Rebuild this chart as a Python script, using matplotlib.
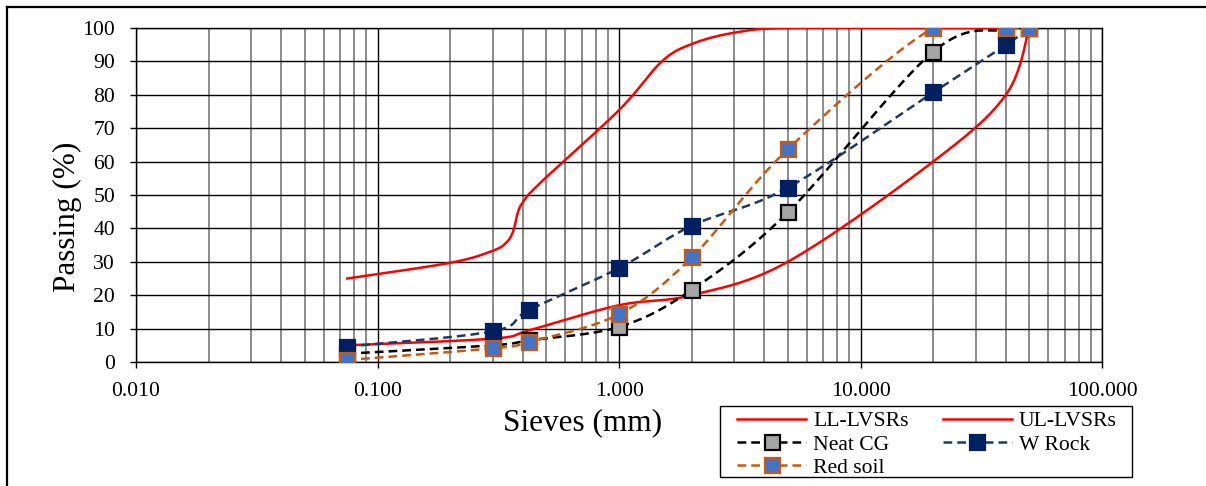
import matplotlib.pyplot as plt
import numpy as np
from matplotlib.lines import Line2D
from matplotlib.patches import Rectangle
from matplotlib.ticker import FixedLocator, FormatStrFormatter, NullFormatter

plt.rcParams['font.family'] = ['Liberation Serif', 'DejaVu Serif']

# sieve sizes (mm) and % passing for the three materials
sieves = [0.075, 0.3, 0.425, 1.0, 2.0, 5.0, 20.0, 40.0, 50.0]
neat_cg = [2.5, 5.0, 6.5, 10.5, 21.6, 44.8, 92.9, 99.5, 100]
w_rock = [4.6, 9.2, 15.6, 28.1, 40.8, 52.2, 80.7, 94.9, 100]
red_soil = [0.6, 4.1, 6.0, 14.3, 31.3, 63.7, 100, 100, 100]

# envelope curves
ll_x = [0.075, 0.3, 0.425, 1.0, 2.0, 5.0, 20.0, 40.0, 50.0]
ll_y = [5.0, 7.0, 9.5, 17.0, 20.0, 30.0, 60.0, 80.0, 100]
ul_x = [0.075, 0.2, 0.3, 0.344, 0.366, 0.377, 0.397, 0.47, 1.0, 1.5, 2.0, 3.0, 5.0, 20.0, 50.0]
ul_y = [25.0, 29.7, 33.3, 36.0, 39.5, 43.5, 47.5, 53.5, 75.4, 89.9, 95.2, 98.6, 100, 100, 100]


def smooth(xs, ys, n=40):
    # Excel-like smoothed line: Catmull-Rom bezier in (log x, y) space
    pts = np.column_stack([np.log10(xs), np.asarray(ys, float)])
    P = np.vstack([pts[0], pts, pts[-1]])
    t = np.linspace(0, 1, n)[:, None]
    out = []
    for i in range(1, len(P) - 2):
        p0, p1, p2, p3 = P[i - 1], P[i], P[i + 1], P[i + 2]
        c1 = p1 + (p2 - p0) / 6
        c2 = p2 - (p3 - p1) / 6
        seg = (1 - t) ** 3 * p1 + 3 * (1 - t) ** 2 * t * c1 + 3 * (1 - t) * t ** 2 * c2 + t ** 3 * p2
        out.append(seg if i == 1 else seg[1:])
    res = np.vstack(out)
    return 10 ** res[:, 0], res[:, 1]


fig = plt.figure(figsize=(12.06, 4.86), dpi=100)
ax = fig.add_axes([136 / 1206, 1 - 362 / 486, 966 / 1206, 334 / 486])

red = '#FF0000'
lw = 1.8
ms = 10.8
dash = (3.5, 2)

x, y = smooth(ll_x, ll_y)
ax.plot(x, y, color=red, lw=lw, zorder=3)
x, y = smooth(ul_x, ul_y)
ax.plot(x, y, color=red, lw=lw, zorder=3)

series = [
    (neat_cg, 'black', '#A5A5A5', 'black'),
    (w_rock, '#1F3864', '#002060', '#002060'),
    (red_soil, '#C55A11', '#4472C4', '#C55A11'),
]
for k, (vals, lc, mfc, mec) in enumerate(series):
    x, y = smooth(sieves, vals)
    ax.plot(x, y, color=lc, lw=lw, dashes=dash, zorder=4 + k)
    ax.plot(sieves, vals, ls='none', marker='s', ms=ms, mfc=mfc, mec=mec, mew=1.6, zorder=4 + k)

ax.set_xscale('log')
ax.set_xlim(0.01, 100)
ax.set_ylim(0, 100)
ax.set_yticks(np.arange(0, 101, 10))
ax.xaxis.set_major_locator(FixedLocator([0.01, 0.1, 1, 10, 100]))
ax.xaxis.set_major_formatter(FormatStrFormatter('%.3f'))
minors = [m * 10.0 ** e for e in range(-2, 2) for m in range(2, 10)]
ax.xaxis.set_minor_locator(FixedLocator(minors))
ax.xaxis.set_minor_formatter(NullFormatter())

ax.grid(True, which='major', color='black', lw=1.0)
ax.grid(True, which='minor', axis='x', color='#6E6E6E', lw=1.1)
ax.set_axisbelow(True)
for s in ax.spines.values():
    s.set_color('black')
    s.set_linewidth(1.0)

ax.tick_params(axis='both', which='major', direction='out', length=4.5, width=1, labelsize=15.6)
ax.tick_params(axis='x', which='major', pad=10)
ax.tick_params(axis='y', which='major', pad=10.5)
ax.tick_params(axis='x', which='minor', length=0)

ax.set_xlabel('Sieves (mm)', fontsize=22.5, va='center', ha='center')
ax.xaxis.set_label_coords((583 - 136) / 966, (362 - 423) / 334)
ax.set_ylabel('Passing (%)', fontsize=22.5, va='center', ha='center')
ax.yaxis.set_label_coords((67 - 136) / 966, (362 - 217) / 334)

h_ll = Line2D([], [], color=red, lw=lw)
h_ul = Line2D([], [], color=red, lw=lw)
h_cg = Line2D([], [], color='black', lw=lw, dashes=dash, marker='s', ms=ms, mfc='#A5A5A5', mec='black', mew=1.6)
h_wr = Line2D([], [], color='#1F3864', lw=lw, dashes=dash, marker='s', ms=ms, mfc='#002060', mec='#002060', mew=1.6)
h_rs = Line2D([], [], color='#C55A11', lw=lw, dashes=dash, marker='s', ms=ms, mfc='#4472C4', mec='#C55A11', mew=1.6)

fig.legend([h_ll, h_cg, h_rs, h_ul, h_wr],
           ['LL-LVSRs', 'Neat CG', 'Red soil', 'UL-LVSRs', 'W Rock'],
           ncol=2, loc='upper left', bbox_to_anchor=(737 / 1206, 1 - 411 / 486),
           bbox_transform=fig.transFigure, borderaxespad=0, borderpad=0, fontsize=15.6,
           frameon=False, handlelength=3.2, handletextpad=0.33, columnspacing=1.55,
           labelspacing=0.15)

# legend border box
fig.add_artist(Rectangle((720 / 1206, 1 - 477 / 486), 412 / 1206, 71 / 486, fill=False,
                         edgecolor='black', lw=1.0, transform=fig.transFigure))

# outer chart border (left and top edges visible)
fig.add_artist(Line2D([7 / 1206, 7 / 1206], [0, 1 - 7 / 486], color='black', lw=1.6,
                      transform=fig.transFigure))
fig.add_artist(Line2D([7 / 1206, 1], [1 - 7 / 486, 1 - 7 / 486], color='black', lw=1.6,
                      transform=fig.transFigure))

fig.savefig('out.png', dpi=100)
